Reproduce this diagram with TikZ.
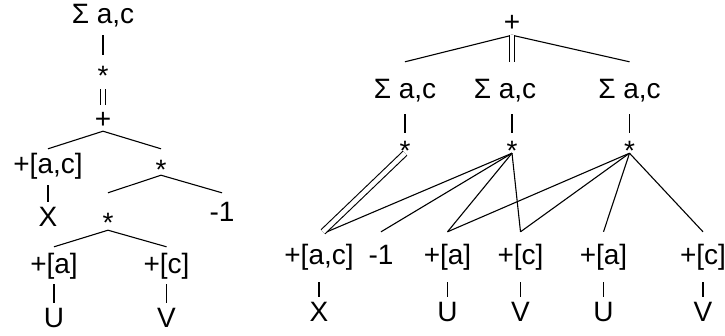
\documentclass[tikz,border=0pt]{standalone}
\usepackage{fontspec}
\setmainfont{Liberation Sans}
\newcommand{\lab}{\fontsize{28}{30}\selectfont}
\newcommand{\opstar}{\raisebox{-0.43em}{*}}

\begin{document}
\begin{tikzpicture}[x=1pt, y=-1pt,
    tnode/.style={font=\lab, inner sep=0pt, anchor=base, text height=24pt, text depth=12pt},
    op/.style={tnode, text height=18pt, text depth=10pt},
    link/.style={line width=1.1pt},
    dlink/.style={link, double, double distance=4.5pt}
]
    \useasboundingbox (0,0) rectangle (725,335);

    % Left tree
    \node[tnode] (sumL) at (103,23) {Σ a,c};
    \node[op, text depth=16pt] (mulL) at (103,73) {\opstar};
    \node[tnode, text height=23pt, text depth=3pt] (plusL) at (103,128) {+};
    \node[tnode] (acL) at (48,173) {+[a,c]};
    \node[op, text depth=8pt] (mulLa) at (161,167) {\opstar};
    \node[tnode] (xL) at (48,226) {X};
    \node[op, text height=27pt] (mulLb) at (108,220) {\opstar};
    \node[tnode, text height=28pt] (m1L) at (222,221) {-1};
    \node[tnode, text height=26pt, text depth=11pt] (aL) at (54,273) {+[a]};
    \node[tnode, text height=26pt, text depth=11pt] (cL) at (166.5,273) {+[c]};
    \node[tnode] (uL) at (54,327) {U};
    \node[tnode] (vL) at (166.5,327) {V};

    % Left tree links
    \draw[link] (sumL.south) -- (mulL.north);
    \draw[dlink] (mulL.south) -- (plusL.north);
    \draw[link] (plusL.south) -- (acL.north);
    \draw[link] (plusL.south) -- (mulLa.north);
    \draw[link] (acL.south) -- (xL.north);
    \draw[link] (mulLa.south) -- (mulLb.north);
    \draw[link] (mulLa.south) -- (m1L.north);
    \draw[link] (mulLb.south) -- (aL.north);
    \draw[link] (mulLb.south) -- (cL.north);
    \draw[link] (aL.south) -- (uL.north);
    \draw[link] (cL.south) -- (vL.north);

    % Right tree, top
    \node[tnode, text depth=4pt] (plusR) at (512,31) {+};
    \node[tnode, text height=36pt, text depth=16pt] (sumR1) at (405,98) {Σ a,c};
    \node[tnode, text height=36pt, text depth=16pt] (sumR2) at (505,98) {Σ a,c};
    \node[tnode, text height=36pt, text depth=16pt] (sumR3) at (629.5,98) {Σ a,c};
    \node[op, text height=15pt, text depth=5pt] (mulR1) at (405,148) {\opstar};
    \node[op, text height=15pt, text depth=5pt] (mulR2) at (512,148) {\opstar};
    \node[op, text height=15pt, text depth=5pt] (mulR3) at (629.5,148) {\opstar};

    % Right tree, bottom row
    \node[tnode, text height=32pt, text depth=18pt] (acR) at (319,264) {+[a,c]};
    \node[tnode, text height=32pt, text depth=18pt] (m1R) at (381,264) {-1};
    \node[tnode, text height=32pt, text depth=18pt] (aR1) at (447.5,264) {+[a]};
    \node[tnode, text height=32pt, text depth=18pt] (cR1) at (520.5,264) {+[c]};
    \node[tnode, text height=32pt, text depth=18pt] (aR2) at (603.5,264) {+[a]};
    \node[tnode, text height=32pt, text depth=18pt] (cR2) at (703,264) {+[c]};
    \node[tnode] (xR) at (319,321) {X};
    \node[tnode] (uR1) at (447.5,321) {U};
    \node[tnode] (vR1) at (520.5,321) {V};
    \node[tnode] (uR2) at (603.5,321) {U};
    \node[tnode] (vR2) at (703,321) {V};

    % Right tree links
    \draw[link] (plusR.south) -- (sumR1.north);
    \draw[link] (plusR.south) -- (sumR3.north);
    \draw[dlink] (plusR.south) -- (plusR.south |- sumR2.north);
    \draw[link] (sumR1.south) -- (mulR1.north);
    \draw[link] (sumR2.south -| mulR2.north) -- (mulR2.north);
    \draw[link] (sumR3.south) -- (mulR3.north);
    \draw[dlink] (mulR1.south) -- ([xshift=4pt]acR.north);
    \draw[link] (mulR2.south) -- ([xshift=8pt]acR.north);
    \draw[link] (mulR2.south) -- (m1R.north);
    \draw[link] (mulR2.south) -- (aR1.north);
    \draw[link] (mulR2.south) -- (cR1.north);
    \draw[link] (mulR3.south) -- (aR1.north);
    \draw[link] (mulR3.south) -- (cR1.north);
    \draw[link] (mulR3.south) -- (aR2.north);
    \draw[link] (mulR3.south) -- (cR2.north);
    \draw[link] (acR.south) -- (xR.north);
    \draw[link] (aR1.south) -- (uR1.north);
    \draw[link] (cR1.south) -- (vR1.north);
    \draw[link] (aR2.south) -- (uR2.north);
    \draw[link] (cR2.south) -- (vR2.north);
\end{tikzpicture}
\end{document}
